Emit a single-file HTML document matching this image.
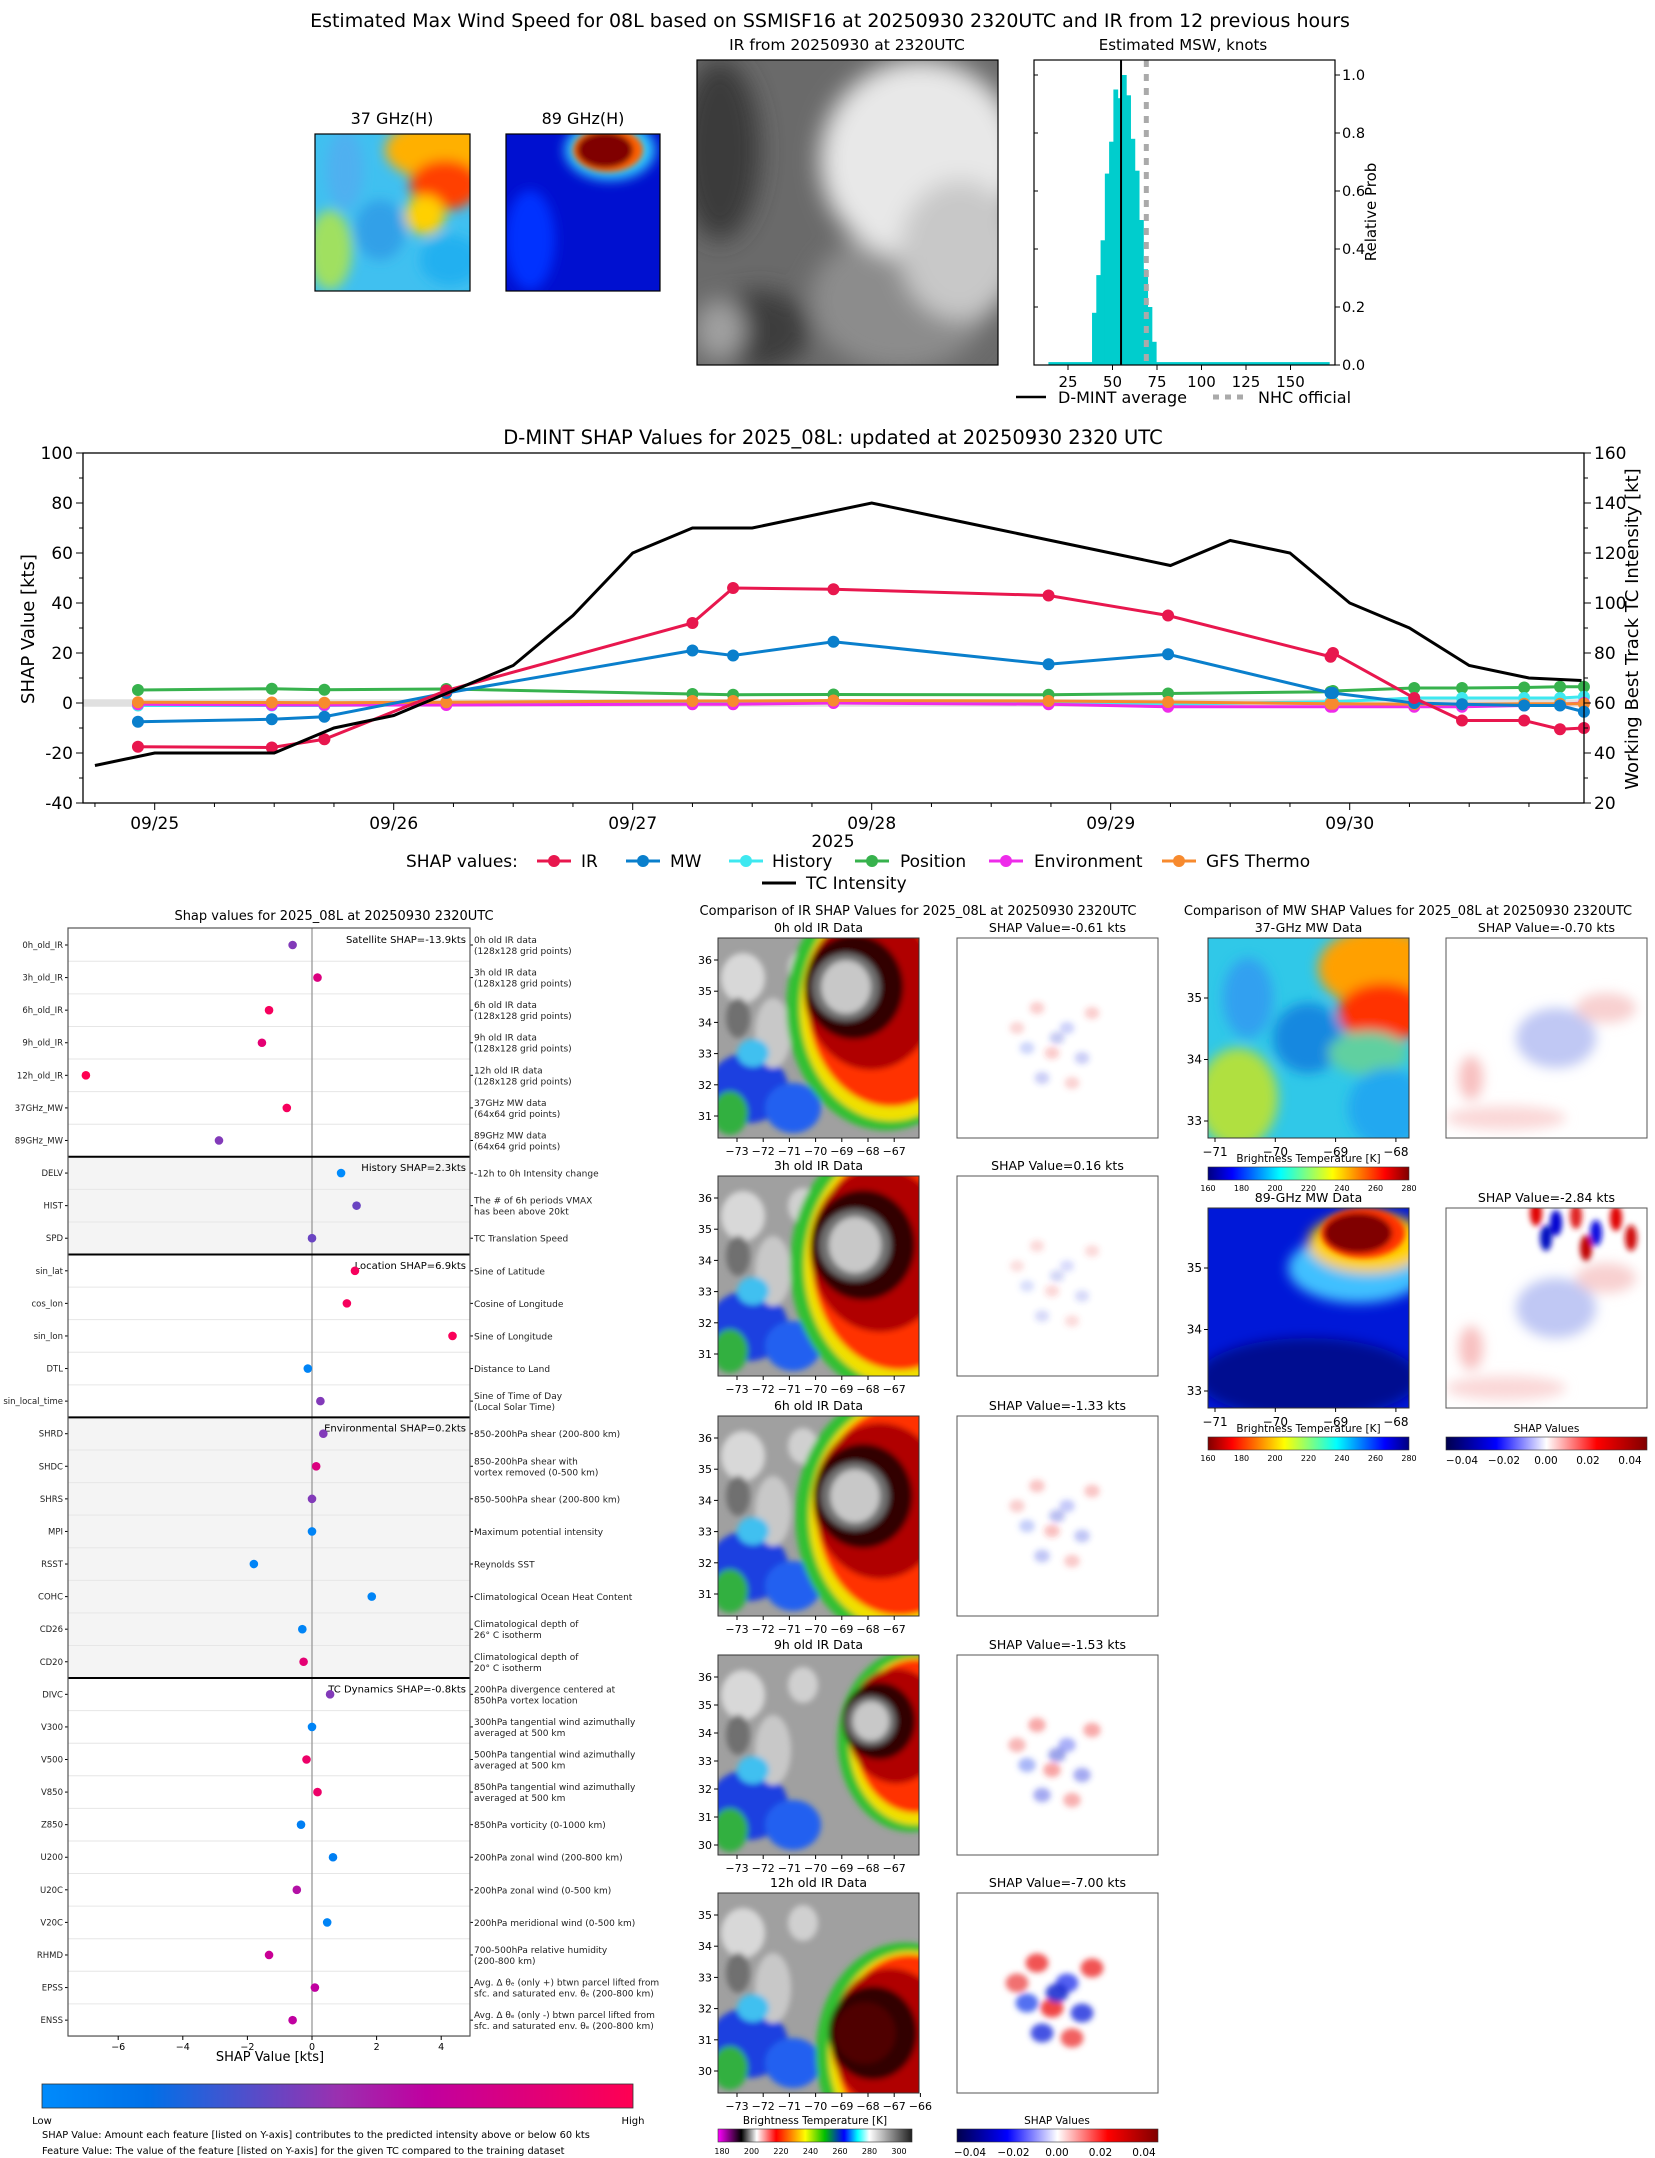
<!DOCTYPE html>
<html><head><meta charset="utf-8">
<style>
body{margin:0;background:#fff;}
svg{display:block;font-family:"DejaVu Sans","Liberation Sans",sans-serif;}
</style></head>
<body>
<svg id="fig" xmlns="http://www.w3.org/2000/svg" width="1655" height="2158" viewBox="0 0 1655 2158">
<defs>
<filter id="bl3" x="-20%" y="-20%" width="140%" height="140%"><feGaussianBlur stdDeviation="3"/></filter>
<filter id="bl6" x="-30%" y="-30%" width="160%" height="160%"><feGaussianBlur stdDeviation="6"/></filter>
<filter id="bl12" x="-30%" y="-30%" width="160%" height="160%"><feGaussianBlur stdDeviation="12"/></filter>
<linearGradient id="jet" x1="0" x2="1" y1="0" y2="0">
<stop offset="0" stop-color="#00007f"/><stop offset="0.12" stop-color="#0000ff"/><stop offset="0.36" stop-color="#00ffff"/><stop offset="0.62" stop-color="#ffff00"/><stop offset="0.88" stop-color="#ff0000"/><stop offset="1" stop-color="#7f0000"/></linearGradient>
<linearGradient id="jetr" x1="1" x2="0" y1="0" y2="0">
<stop offset="0" stop-color="#00007f"/><stop offset="0.12" stop-color="#0000ff"/><stop offset="0.36" stop-color="#00ffff"/><stop offset="0.62" stop-color="#ffff00"/><stop offset="0.88" stop-color="#ff0000"/><stop offset="1" stop-color="#7f0000"/></linearGradient>
<linearGradient id="seis" x1="0" x2="1"><stop offset="0" stop-color="#00004c"/><stop offset="0.25" stop-color="#0000ff"/><stop offset="0.5" stop-color="#ffffff"/><stop offset="0.75" stop-color="#ff0000"/><stop offset="1" stop-color="#800000"/></linearGradient>
<linearGradient id="irc" x1="0" x2="1"><stop offset="0" stop-color="#ff00ff"/><stop offset="0.12" stop-color="#000000"/><stop offset="0.2" stop-color="#ffffff"/><stop offset="0.3" stop-color="#ff0000"/><stop offset="0.45" stop-color="#ffff00"/><stop offset="0.55" stop-color="#00c000"/><stop offset="0.65" stop-color="#0000ff"/><stop offset="0.72" stop-color="#00ffff"/><stop offset="0.78" stop-color="#ffffff"/><stop offset="1" stop-color="#202020"/></linearGradient>
<linearGradient id="shapcb" x1="0" x2="1"><stop offset="0" stop-color="#008bfc"/><stop offset="0.18" stop-color="#0070e8"/><stop offset="0.5" stop-color="#9a30b0"/><stop offset="0.65" stop-color="#c000a0"/><stop offset="1" stop-color="#ff0052"/></linearGradient>
</defs>

<text x="830" y="27" font-size="19" text-anchor="middle">Estimated Max Wind Speed for 08L based on SSMISF16 at 20250930 2320UTC and IR from 12 previous hours</text>
<text x="392" y="124" font-size="16" text-anchor="middle">37 GHz(H)</text>
<text x="583" y="124" font-size="16" text-anchor="middle">89 GHz(H)</text>
<text x="847" y="50" font-size="15.5" text-anchor="middle">IR from 20250930 at 2320UTC</text>
<text x="1183" y="50" font-size="15" text-anchor="middle">Estimated MSW, knots</text>

<g>
<clipPath id="c37"><rect x="315" y="134" width="155" height="157"/></clipPath>
<g clip-path="url(#c37)">
<rect x="315" y="134" width="155" height="157" fill="#40c0f0"/>
<g filter="url(#bl6)">
<ellipse cx="330" cy="250" rx="22" ry="40" fill="#a0e060"/>
<ellipse cx="345" cy="170" rx="18" ry="40" fill="#50b0f0"/>
<ellipse cx="440" cy="150" rx="55" ry="30" fill="#ffb000"/>
<ellipse cx="445" cy="185" rx="35" ry="25" fill="#ff4000"/>
<ellipse cx="425" cy="215" rx="20" ry="20" fill="#ffd000"/>
<ellipse cx="380" cy="230" rx="25" ry="30" fill="#30a0e8"/>
<ellipse cx="450" cy="260" rx="30" ry="25" fill="#20b0f0"/>
</g></g>
<rect x="315" y="134" width="155" height="157" fill="none" stroke="#000" stroke-width="1.2"/>
</g>
<g>
<clipPath id="c89"><rect x="506" y="134" width="154" height="157"/></clipPath>
<g clip-path="url(#c89)">
<rect x="506" y="134" width="154" height="157" fill="#0010d0"/>
<g filter="url(#bl6)">
<ellipse cx="610" cy="150" rx="45" ry="30" fill="#30d0ff"/>
<ellipse cx="530" cy="240" rx="25" ry="50" fill="#0030ff"/>
</g>
<g filter="url(#bl3)">
<ellipse cx="608" cy="150" rx="35" ry="22" fill="#ff6000"/>
<ellipse cx="605" cy="150" rx="28" ry="18" fill="#800000"/>
</g></g>
<rect x="506" y="134" width="154" height="157" fill="none" stroke="#000" stroke-width="1.2"/>
</g>
<g>
<clipPath id="cir"><rect x="697" y="60" width="301" height="305"/></clipPath>
<g clip-path="url(#cir)">
<rect x="697" y="60" width="301" height="305" fill="#6a6a6a"/>
<g filter="url(#bl12)">
<ellipse cx="720" cy="150" rx="40" ry="90" fill="#3a3a3a"/>
<ellipse cx="760" cy="330" rx="50" ry="40" fill="#3e3e3e"/>
<ellipse cx="900" cy="300" rx="90" ry="70" fill="#8c8c8c"/>
<ellipse cx="920" cy="160" rx="100" ry="100" fill="#e8e8e8"/>
<ellipse cx="960" cy="250" rx="60" ry="70" fill="#c8c8c8"/>
<ellipse cx="720" cy="330" rx="25" ry="30" fill="#a0a0a0"/>
</g></g>
<rect x="697" y="60" width="301" height="305" fill="none" stroke="#000" stroke-width="1.2"/>
</g>

<g id="hist"></g>
<g id="ts"></g>
<g id="feat"></g>
<g id="irpanels"></g>
<g id="mwpanels"></g>
</svg>

<script>
const NS='http://www.w3.org/2000/svg';
function add(p,tag,a,txt){const e=document.createElementNS(NS,tag);for(const k in a)e.setAttribute(k,a[k]);if(txt!==undefined)e.textContent=txt;p.appendChild(e);return e;}

const histBinStarts=[38.5,40.9,43.3,45.7,48.1,50.5,52.9,55.3,57.7,60.1,62.5,64.9,67.3,69.7,72.1];
const histProbs=[0.18,0.31,0.43,0.66,0.77,0.95,0.92,1.0,0.93,0.78,0.67,0.50,0.33,0.20,0.08];
const histBinWidth=2.4;
const histTail=[[14,38.5,0.01],[74.5,172,0.01]];
const dmintMean=54.8;
const nhcOfficial=69;
const histXTicks=[25,50,75,100,125,150];
const histYTicks=[0,0.2,0.4,0.6,0.8,1.0];
(function(){
 const g=document.getElementById('hist');
 const L=1034,R=1335,T=60,B=365;
 const xH=v=>L+(v-5.9)*1.78;
 const yH=p=>B-p*290;
 histTail.forEach(t=>{const r=add(g,'rect',{x:xH(t[0]),y:yH(t[2]),width:xH(t[1])-xH(t[0]),height:B-yH(t[2]),fill:'#00cdcd'});
  
  });
 histProbs.forEach((p,i)=>{const r=add(g,'rect',{x:xH(histBinStarts[i]),y:yH(p),width:xH(histBinStarts[i]+histBinWidth)-xH(histBinStarts[i])+0.5,height:B-yH(p),fill:'#00cdcd'});
  
  });
 const m=add(g,'line',{x1:xH(dmintMean),x2:xH(dmintMean),y1:T,y2:B,stroke:'#000','stroke-width':2});
 
 
 const n=add(g,'line',{x1:xH(nhcOfficial),x2:xH(nhcOfficial),y1:T,y2:B,stroke:'#aaa','stroke-width':5,'stroke-dasharray':'7,7'});
 
 
 const fr=add(g,'rect',{x:L,y:T,width:R-L,height:B-T,fill:'none',stroke:'#000','stroke-width':1.2});
 
 
 histXTicks.forEach(v=>{add(g,'line',{x1:xH(v),x2:xH(v),y1:B,y2:B+5,stroke:'#000'});
  const t=add(g,'text',{x:xH(v),y:B+22,'font-size':15,'text-anchor':'middle'},String(v));
  
  });
 histYTicks.forEach(v=>{add(g,'line',{x1:R,x2:R+5,y1:yH(v),y2:yH(v),stroke:'#000'});
  add(g,'line',{x1:L,x2:L+4,y1:yH(v),y2:yH(v),stroke:'#000'});
  const t=add(g,'text',{x:R+7,y:yH(v)+5,'font-size':14.5},v.toFixed(1));
  
  });
 const yl=add(g,'text',{x:0,y:0,'font-size':15,'text-anchor':'middle',transform:'translate(1376,212) rotate(-90)'},'Relative Prob');
 
 
 const l1=add(g,'line',{x1:1016,x2:1046,y1:397,y2:397,stroke:'#000','stroke-width':2.5});
 
 
 const t1=add(g,'text',{x:1058,y:403,'font-size':16},'D-MINT average');
 
 
 const l2=add(g,'line',{x1:1213,x2:1245,y1:397,y2:397,stroke:'#aaa','stroke-width':5,'stroke-dasharray':'6,6'});
 
 
 const t2=add(g,'text',{x:1258,y:403,'font-size':16},'NHC official');
 
 
})();

const shapTimes=[-0.07,0.49,0.71,1.22,2.25,2.42,2.84,3.74,4.24,4.92,4.93,5.27,5.47,5.73,5.88,5.98];
const irShap=[-17.5,-17.8,-14.5,5,32,46,45.5,43,35,18.5,20,2,-7,-7,-10.5,-10];
const mwShap=[-7.5,-6.5,-5.5,4,21,19,24.5,15.5,19.5,4,4,0,-0.5,-1,-1,-3.5];
const historyShap=[-1,-1,-1,-0.5,0,0,0.5,0.5,-0.5,0.5,0.5,2,2,2,2,2.5];
const positionShap=[5.2,5.7,5.3,5.6,3.6,3.3,3.4,3.3,3.8,4.5,4.8,6,6,6.2,6.5,6.5];
const envShap=[-0.5,-0.8,-0.8,-0.8,-0.5,-0.5,0,-0.5,-1.5,-1.5,-1.5,-1.5,-1.5,-1,-0.5,0];
const gfsShap=[0.3,0.2,0.1,0.3,0.8,0.8,1,0.8,0.4,-0.3,-0.3,-0.5,-0.5,-0.3,-0.3,-0.3];
const intensityTimes=[-0.25,0,0.25,0.5,0.75,1,1.25,1.5,1.75,2,2.25,2.5,2.75,3,3.25,3.5,3.75,4,4.25,4.5,4.75,5,5.25,5.5,5.75,5.97];
const intensityKt=[35,40,40,40,50,55,65,75,95,120,130,130,135,140,135,130,125,120,115,125,120,100,90,75,70,69];
const dateLabels=['09/25','09/26','09/27','09/28','09/29','09/30'];
const leftTicks=[-40,-20,0,20,40,60,80,100];
const rightTicks=[20,40,60,80,100,120,140,160];
(function(){
 const g=document.getElementById('ts');
 const L=83,R=1584,T=453,B=803;
 const xS=d=>L+(d+0.30)*239;
 const yL=v=>T+(100-v)*2.5;
 const yR=k=>yL(k-60);
 const tt=add(g,'text',{x:833,y:444,'font-size':19.5,'text-anchor':'middle'},'D-MINT SHAP Values for 2025_08L: updated at 20250930 2320 UTC');
 
 
 const band=add(g,'rect',{x:L,y:yL(1.5),width:R-L,height:yL(-1.5)-yL(1.5),fill:'#e0e0e0'});
 
 
 const series=[['ir',irShap,'#e8174e'],['mw',mwShap,'#0a7fcc'],['history',historyShap,'#3ee8f0'],['position',positionShap,'#37b24d'],['environment',envShap,'#ee2bea'],['gfs-thermo',gfsShap,'#f78a2e']];
 const order=[3,2,4,5,1,0];
 order.forEach(si=>{const s=series[si];
  const pts=shapTimes.map((t,i)=>xS(t)+','+yL(s[1][i])).join(' ');
  const pl=add(g,'polyline',{points:pts,fill:'none',stroke:s[2],'stroke-width':3});
  
  
  shapTimes.forEach((t,i)=>{const c=add(g,'circle',{cx:xS(t),cy:yL(s[1][i]),r:6,fill:s[2]});
   
   });
 });
 const ip=add(g,'polyline',{points:intensityTimes.map((t,i)=>xS(t)+','+yR(intensityKt[i])).join(' '),fill:'none',stroke:'#000','stroke-width':3});
 
 
 const fr=add(g,'rect',{x:L,y:T,width:R-L,height:B-T,fill:'none',stroke:'#000','stroke-width':1.3});
 
 
 leftTicks.forEach(v=>{add(g,'line',{x1:L-7,x2:L,y1:yL(v),y2:yL(v),stroke:'#000'});
  const t=add(g,'text',{x:L-10,y:yL(v)+6,'font-size':17,'text-anchor':'end'},String(v));
  
  });
 for(let v=-30;v<100;v+=20){add(g,'line',{x1:L-4,x2:L,y1:yL(v),y2:yL(v),stroke:'#000'});}
 rightTicks.forEach(v=>{add(g,'line',{x1:R,x2:R+7,y1:yR(v),y2:yR(v),stroke:'#000'});
  const t=add(g,'text',{x:R+10,y:yR(v)+6,'font-size':17},String(v));
  
  });
 for(let v=30;v<160;v+=20){add(g,'line',{x1:R,x2:R+4,y1:yR(v),y2:yR(v),stroke:'#000'});}
 dateLabels.forEach((d,i)=>{add(g,'line',{x1:xS(i),x2:xS(i),y1:B,y2:B+7,stroke:'#000'});
  const t=add(g,'text',{x:xS(i),y:B+26,'font-size':17,'text-anchor':'middle'},d);
  
  });
 for(let d=-0.25;d<6;d+=0.25){if(Math.abs(d-Math.round(d))>0.01)add(g,'line',{x1:xS(d),x2:xS(d),y1:B,y2:B+4,stroke:'#000'});}
 const xl=add(g,'text',{x:833,y:847,'font-size':17,'text-anchor':'middle'},'2025');
 
 
 const ly=add(g,'text',{x:0,y:0,'font-size':18,'text-anchor':'middle',transform:'translate(34,629) rotate(-90)'},'SHAP Value [kts]');
 
 
 const ry=add(g,'text',{x:0,y:0,'font-size':18,'text-anchor':'middle',transform:'translate(1638,629) rotate(-90)'},'Working Best Track TC Intensity [kt]');
 
 
 const lh=add(g,'text',{x:406,y:867,'font-size':17},'SHAP values:');
 
 
 const leg=[['IR',554,581,'#e8174e'],['MW',643,670,'#0a7fcc'],['History',746,772,'#3ee8f0'],['Position',872,900,'#37b24d'],['Environment',1006,1034,'#ee2bea'],['GFS Thermo',1179,1206,'#f78a2e']];
 leg.forEach(e=>{add(g,'line',{x1:e[1]-17,x2:e[1]+17,y1:861,y2:861,stroke:e[3],'stroke-width':3});
  const c=add(g,'circle',{cx:e[1],cy:861,r:6,fill:e[3]});
  
  
  const t=add(g,'text',{x:e[2],y:867,'font-size':17},e[0]);
  
  });
 add(g,'line',{x1:762,x2:796,y1:883,y2:883,stroke:'#000','stroke-width':3});
 const ti=add(g,'text',{x:806,y:889,'font-size':17},'TC Intensity');
 
 
})();

const featNames=['0h_old_IR','3h_old_IR','6h_old_IR','9h_old_IR','12h_old_IR','37GHz_MW','89GHz_MW','DELV','HIST','SPD','sin_lat','cos_lon','sin_lon','DTL','sin_local_time','SHRD','SHDC','SHRS','MPI','RSST','COHC','CD26','CD20','DIVC','V300','V500','V850','Z850','U200','U20C','V20C','RHMD','EPSS','ENSS'];
const featShap=[-0.6,0.17,-1.33,-1.55,-7.0,-0.78,-2.88,0.9,1.38,0,1.33,1.08,4.35,-0.13,0.26,0.35,0.13,0,0,-1.8,1.85,-0.3,-0.26,0.56,0,-0.17,0.17,-0.34,0.65,-0.47,0.47,-1.33,0.09,-0.6];
const featValue=[0.45,0.8,0.95,0.85,1.0,0.95,0.45,0.0,0.4,0.4,0.95,0.95,0.97,0.05,0.45,0.45,0.8,0.45,0.05,0.05,0.05,0.05,0.85,0.45,0.05,0.9,0.9,0.08,0.08,0.6,0.05,0.7,0.65,0.65];
const featDesc=[['0h old IR data','(128x128 grid points)'],['3h old IR data','(128x128 grid points)'],['6h old IR data','(128x128 grid points)'],['9h old IR data','(128x128 grid points)'],['12h old IR data','(128x128 grid points)'],['37GHz MW data','(64x64 grid points)'],['89GHz MW data','(64x64 grid points)'],['-12h to 0h Intensity change'],['The # of 6h periods VMAX','has been above 20kt'],['TC Translation Speed'],['Sine of Latitude'],['Cosine of Longitude'],['Sine of Longitude'],['Distance to Land'],['Sine of Time of Day','(Local Solar Time)'],['850-200hPa shear (200-800 km)'],['850-200hPa shear with','vortex removed (0-500 km)'],['850-500hPa shear (200-800 km)'],['Maximum potential intensity'],['Reynolds SST'],['Climatological Ocean Heat Content'],['Climatological depth of','26° C isotherm'],['Climatological depth of','20° C isotherm'],['200hPa divergence centered at','850hPa vortex location'],['300hPa tangential wind azimuthally','averaged at 500 km'],['500hPa tangential wind azimuthally','averaged at 500 km'],['850hPa tangential wind azimuthally','averaged at 500 km'],['850hPa vorticity (0-1000 km)'],['200hPa zonal wind (200-800 km)'],['200hPa zonal wind (0-500 km)'],['200hPa meridional wind (0-500 km)'],['700-500hPa relative humidity','(200-800 km)'],['Avg. Δ θₑ (only +) btwn parcel lifted from','sfc. and saturated env. θₑ (200-800 km)'],['Avg. Δ θₑ (only -) btwn parcel lifted from','sfc. and saturated env. θₑ (200-800 km)']];
const groupNames=['Satellite SHAP=-13.9kts','History SHAP=2.3kts','Location SHAP=6.9kts','Environmental SHAP=0.2kts','TC Dynamics SHAP=-0.8kts'];
const groupStart=[0,7,10,15,23];
const groupEnd=[6,9,14,22,33];
const featXTicks=[-6,-4,-2,0,2,4];
function valColor(v){const a=[[0,139,252],[0,112,232],[154,48,176],[192,0,160],[255,0,82]];const s=[0,0.18,0.5,0.65,1];let i=0;while(i<3&&v>s[i+1])i++;const f=(v-s[i])/(s[i+1]-s[i]);const c=a[i].map((x,k)=>Math.round(x+(a[i+1][k]-x)*f));return 'rgb('+c.join(',')+')';}
(function(){
 const g=document.getElementById('feat');
 const L=68,R=470,T=928,B=2036;
 const xF=v=>312+v*32.3;
 const yF=i=>945+i*32.58;
 const tt=add(g,'text',{x:334,y:920,'font-size':13,'text-anchor':'middle'},'Shap values for 2025_08L at 20250930 2320UTC');
 
 
 groupStart.forEach((s,gi)=>{
  const y0=gi===0?T:yF(s)-16.3, y1=gi===4?B:yF(groupEnd[gi])+16.3;
  if(gi===1||gi===3){const r=add(g,'rect',{x:L,y:y0,width:R-L,height:y1-y0,fill:'#f4f4f4'});
   
   }
 });
 featNames.forEach((n,i)=>{add(g,'line',{x1:L,x2:R,y1:yF(i)+16.3,y2:yF(i)+16.3,stroke:'#e6e6e6','stroke-width':1});});
 add(g,'line',{x1:xF(0),x2:xF(0),y1:T,y2:B,stroke:'#999','stroke-width':1.3});
 groupStart.forEach((s,gi)=>{if(gi>0){const l=add(g,'line',{x1:L,x2:R,y1:yF(s)-16.3,y2:yF(s)-16.3,stroke:'#000','stroke-width':2});
   
   }
  const t=add(g,'text',{x:R-4,y:yF(s)-2,'font-size':10,'text-anchor':'end'},groupNames[gi]);
  
  });
 featNames.forEach((n,i)=>{
  const t=add(g,'text',{x:L-5,y:yF(i)+3,'font-size':8.5,'text-anchor':'end',fill:'#222'},n);
  
  
  add(g,'line',{x1:L-3,x2:L,y1:yF(i),y2:yF(i),stroke:'#000'});
  add(g,'line',{x1:R,x2:R+3,y1:yF(i),y2:yF(i),stroke:'#000'});
  const d=featDesc[i];
  d.forEach((line,k)=>{const dt=add(g,'text',{x:R+4,y:yF(i)+(d.length===1?3.5:-2+k*11),'font-size':9,fill:'#222'},line);
   
   });
  const c=add(g,'circle',{cx:xF(featShap[i]),cy:yF(i),r:4.3,fill:valColor(featValue[i])});
  
  
 });
 const fr=add(g,'rect',{x:L,y:T,width:R-L,height:B-T,fill:'none',stroke:'#555','stroke-width':1.2});
 
 
 featXTicks.forEach(v=>{add(g,'line',{x1:xF(v),x2:xF(v),y1:B,y2:B+4,stroke:'#000'});
  const t=add(g,'text',{x:xF(v),y:B+14,'font-size':9.5,'text-anchor':'middle'},v<0?'−'+(-v):String(v));
  
  });
 const xl=add(g,'text',{x:270,y:2061,'font-size':13,'text-anchor':'middle'},'SHAP Value [kts]');
 
 
 const cb=add(g,'rect',{x:42,y:2084,width:591,height:24,fill:'url(#shapcb)',stroke:'#333','stroke-width':0.8});
 
 
 const lo=add(g,'text',{x:42,y:2124,'font-size':10,'text-anchor':'middle'},'Low');
 
 
 const hi=add(g,'text',{x:633,y:2124,'font-size':10,'text-anchor':'middle'},'High');
 
 
 const f1=add(g,'text',{x:42,y:2138,'font-size':9.8},'SHAP Value: Amount each feature [listed on Y-axis] contributes to the predicted intensity above or below 60 kts');
 
 
 const f2=add(g,'text',{x:42,y:2154,'font-size':9.8},'Feature Value: The value of the feature [listed on Y-axis] for the given TC compared to the training dataset');
 
 
})();

const irPanelTitles=['0h old IR Data','3h old IR Data','6h old IR Data','9h old IR Data','12h old IR Data'];
const irShapTitles=['SHAP Value=-0.61 kts','SHAP Value=0.16 kts','SHAP Value=-1.33 kts','SHAP Value=-1.53 kts','SHAP Value=-7.00 kts'];
const irLatTicks=[[36,35,34,33,32,31],[36,35,34,33,32,31],[36,35,34,33,32,31],[36,35,34,33,32,31,30],[35,34,33,32,31,30]];
const irLonTicks=[[-73,-72,-71,-70,-69,-68,-67],[-73,-72,-71,-70,-69,-68,-67],[-73,-72,-71,-70,-69,-68,-67],[-73,-72,-71,-70,-69,-68,-67],[-73,-72,-71,-70,-69,-68,-67,-66]];
const irCenters=[[128,49,0.95],[137,69,1.0],[137,80,0.95],[153,66,0.7],[147,140,0.85]];
const irShapStrength=[0.25,0.2,0.3,0.45,0.9];
(function(){
 const g=document.getElementById('irpanels');
 const tt=add(g,'text',{x:918,y:915,'font-size':13,'text-anchor':'middle'},'Comparison of IR SHAP Values for 2025_08L at 20250930 2320UTC');
 
 
 const tops=[938,1176,1416,1655,1893];
 const X=718,W=201,H=200,SX=957;
 tops.forEach((top,p)=>{
  const cp=add(g,'clipPath',{id:'irc'+p});add(cp,'rect',{x:X,y:top,width:W,height:H});
  const im=add(g,'g',{'clip-path':'url(#irc'+p+')'});
  
  
  add(im,'rect',{x:X,y:top,width:W,height:H,fill:'#a0a0a0'});
  const [cx,cy,s]=irCenters[p];
  const bb=add(im,'g',{filter:'url(#bl3)'});
  add(bb,'ellipse',{cx:X+30,cy:top+150,rx:40,ry:35,fill:'#1a40e0'});
  add(bb,'ellipse',{cx:X+12,cy:top+175,rx:18,ry:22,fill:'#30b040'});
  add(bb,'ellipse',{cx:X+75,cy:top+170,rx:28,ry:25,fill:'#2060f0'});
  add(bb,'ellipse',{cx:X+25,cy:top+40,rx:22,ry:25,fill:'#d8d8d8'});
  add(bb,'ellipse',{cx:X+55,cy:top+95,rx:18,ry:35,fill:'#c8c8c8'});
  add(bb,'ellipse',{cx:X+35,cy:top+115,rx:16,ry:14,fill:'#40c0f0'});
  add(bb,'ellipse',{cx:X+20,cy:top+80,rx:12,ry:20,fill:'#707070'});
  add(bb,'ellipse',{cx:X+85,cy:top+30,rx:15,ry:18,fill:'#d0d0d0'});
  const bx=X+cx, by=top+cy;
  add(bb,'ellipse',{cx:bx+40,cy:by+20,rx:105*s,ry:130*s,fill:'#30c030'});
  add(bb,'ellipse',{cx:bx+45,cy:by+20,rx:96*s,ry:120*s,fill:'#f0e000'});
  add(bb,'ellipse',{cx:bx+45,cy:by+15,rx:88*s,ry:110*s,fill:'#ff3000'});
  add(bb,'ellipse',{cx:bx+25,cy:by+5,rx:70*s,ry:82*s,fill:'#b00000'});
  add(bb,'ellipse',{cx:bx+8,cy:by,rx:52*s,ry:55*s,fill:'#300000'});
  add(bb,'ellipse',{cx:bx,cy:by,rx:36*s,ry:36*s,fill:p===4?'#500000':'#707070'});
  if(p<4)add(bb,'ellipse',{cx:bx,cy:by,rx:26*s,ry:28*s,fill:'#c8c8c8'});
  const fr=add(g,'rect',{x:X,y:top,width:W,height:H,fill:'none',stroke:'#333','stroke-width':1});
  
  
  const t1=add(g,'text',{x:X+W/2,y:top-6,'font-size':12.5,'text-anchor':'middle'},irPanelTitles[p]);
  
  
  const lons=irLonTicks[p], lats=irLatTicks[p];
  lons.forEach((v,k)=>{const x=X+19+k*26.2;add(g,'line',{x1:x,x2:x,y1:top+H,y2:top+H+4,stroke:'#000'});
   const t=add(g,'text',{x:x,y:top+H+17,'font-size':11,'text-anchor':'middle'},'−'+(-v));
   
   });
  lats.forEach((v,k)=>{const y=top+22+k*(lats.length>6?28:31.2);add(g,'line',{x1:X-4,x2:X,y1:y,y2:y,stroke:'#000'});
   const t=add(g,'text',{x:X-6,y:y+4,'font-size':11,'text-anchor':'end'},String(v));
   
   });
  const cs=add(g,'clipPath',{id:'isc'+p});add(cs,'rect',{x:SX,y:top,width:W,height:H});
  const sm=add(g,'g',{'clip-path':'url(#isc'+p+')'});
  
  
  add(sm,'rect',{x:SX,y:top,width:W,height:H,fill:'#fff'});
  const st=irShapStrength[p];
  const sb=add(sm,'g',{filter:'url(#bl3)','fill-opacity':st});
  const offs=[[-20,-30,'#f04040'],[10,-10,'#4050f0'],[-5,15,'#f03030'],[25,20,'#3040e0'],[-30,10,'#4060f0'],[15,45,'#f05050'],[-15,40,'#3040e0'],[35,-25,'#f04040'],[0,0,'#2030d0'],[-40,-10,'#f06060']];
  offs.forEach(o=>add(sb,'ellipse',{cx:SX+100+o[0],cy:top+100+o[1],rx:6+st*6,ry:5+st*5,fill:o[2]}));
  const sf=add(g,'rect',{x:SX,y:top,width:W,height:H,fill:'none',stroke:'#555','stroke-width':1});
  
  
  const t2=add(g,'text',{x:SX+W/2,y:top-6,'font-size':12.5,'text-anchor':'middle'},irShapTitles[p]);
  
  
 });
 const c1=add(g,'rect',{x:718,y:2129,width:194,height:13,fill:'url(#irc)',stroke:'#333','stroke-width':0.6});
 
 
 const l1=add(g,'text',{x:815,y:2124,'font-size':10.5,'text-anchor':'middle'},'Brightness Temperature [K]');
 
 
 [180,200,220,240,260,280,300].forEach((v,k)=>{const t=add(g,'text',{x:722+k*29.5,y:2154,'font-size':8,'text-anchor':'middle'},String(v));
  
  });
 const c2=add(g,'rect',{x:957,y:2129,width:201,height:13,fill:'url(#seis)',stroke:'#333','stroke-width':0.6});
 
 
 const l2=add(g,'text',{x:1057,y:2124,'font-size':10.5,'text-anchor':'middle'},'SHAP Values');
 
 
 ['−0.04','−0.02','0.00','0.02','0.04'].forEach((v,k)=>{const t=add(g,'text',{x:970+k*43.5,y:2156,'font-size':10.5,'text-anchor':'middle'},v);
  
  });
})();

const mwTitles=['37-GHz MW Data','89-GHz MW Data'];
const mwShapTitles=['SHAP Value=-0.70 kts','SHAP Value=-2.84 kts'];
const mwLonTicks=[-71,-70,-69,-68];
const mwLatTicks=[35,34,33];
const cbTicks=[160,180,200,220,240,260,280];
(function(){
 const g=document.getElementById('mwpanels');
 const tt=add(g,'text',{x:1408,y:915,'font-size':13,'text-anchor':'middle'},'Comparison of MW SHAP Values for 2025_08L at 20250930 2320UTC');
 
 
 const X=1208,W=201,SX=1446;
 const tops=[938,1208];
 tops.forEach((top,p)=>{
  const H=200;
  const cp=add(g,'clipPath',{id:'mwc'+p});add(cp,'rect',{x:X,y:top,width:W,height:H});
  const im=add(g,'g',{'clip-path':'url(#mwc'+p+')'});
  
  
  if(p===0){
   add(im,'rect',{x:X,y:top,width:W,height:H,fill:'#30c8e8'});
   const bb=add(im,'g',{filter:'url(#bl6)'});
   add(bb,'ellipse',{cx:X+30,cy:top+160,rx:40,ry:50,fill:'#b0e040'});
   add(bb,'ellipse',{cx:X+100,cy:top+100,rx:35,ry:35,fill:'#1888e0'});
   add(bb,'ellipse',{cx:X+40,cy:top+60,rx:25,ry:40,fill:'#30a0f0'});
   add(bb,'ellipse',{cx:X+170,cy:top+30,rx:60,ry:40,fill:'#ffa000'});
   add(bb,'ellipse',{cx:X+175,cy:top+75,rx:45,ry:30,fill:'#ff3000'});
   add(bb,'ellipse',{cx:X+160,cy:top+115,rx:40,ry:22,fill:'#60d0a0'});
   add(bb,'ellipse',{cx:X+180,cy:top+170,rx:40,ry:40,fill:'#20a8f0'});
  } else {
   add(im,'rect',{x:X,y:top,width:W,height:H,fill:'#0018d8'});
   const bb=add(im,'g',{filter:'url(#bl6)'});
   add(bb,'ellipse',{cx:X+100,cy:top+170,rx:110,ry:40,fill:'#000a90'});
   add(bb,'ellipse',{cx:X+150,cy:top+60,rx:70,ry:35,fill:'#40c0ff'});
   add(bb,'ellipse',{cx:X+160,cy:top+35,rx:60,ry:30,fill:'#ffd000'});
   const b2=add(im,'g',{filter:'url(#bl3)'});
   add(b2,'ellipse',{cx:X+155,cy:top+25,rx:42,ry:25,fill:'#ff3000'});
   add(b2,'ellipse',{cx:X+150,cy:top+25,rx:34,ry:20,fill:'#800000'});
  }
  const fr=add(g,'rect',{x:X,y:top,width:W,height:H,fill:'none',stroke:'#333','stroke-width':1});
  
  
  const t1=add(g,'text',{x:X+W/2,y:top-6,'font-size':12.5,'text-anchor':'middle'},mwTitles[p]);
  
  
  mwLonTicks.forEach((v,k)=>{const x=X+7+k*60.3;add(g,'line',{x1:x,x2:x,y1:top+H,y2:top+H+4,stroke:'#000'});
   const t=add(g,'text',{x:x,y:top+H+18,'font-size':12,'text-anchor':'middle'},'−'+(-v));
   
   });
  mwLatTicks.forEach((v,k)=>{const y=top+60+k*61.5;add(g,'line',{x1:X-4,x2:X,y1:y,y2:y,stroke:'#000'});
   const t=add(g,'text',{x:X-6,y:y+4,'font-size':12,'text-anchor':'end'},String(v));
   
   });
  const cs=add(g,'clipPath',{id:'msc'+p});add(cs,'rect',{x:SX,y:top,width:W,height:H});
  const sm=add(g,'g',{'clip-path':'url(#msc'+p+')'});
  
  
  add(sm,'rect',{x:SX,y:top,width:W,height:H,fill:'#fff'});
  const sb=add(sm,'g',{filter:'url(#bl6)'});
  add(sb,'ellipse',{cx:SX+110,cy:top+100,rx:40,ry:30,fill:'#c0c8f4'});
  add(sb,'ellipse',{cx:SX+25,cy:top+140,rx:12,ry:22,fill:'#f8c0c0'});
  add(sb,'ellipse',{cx:SX+160,cy:top+70,rx:30,ry:15,fill:'#f8d0d0'});
  add(sb,'ellipse',{cx:SX+60,cy:top+180,rx:60,ry:12,fill:'#fad8d8'});
  if(p===1){const b3=add(sm,'g',{filter:'url(#bl3)'});
   [[-40,5,'#e00000'],[-20,15,'#0000d0'],[0,8,'#e02020'],[20,25,'#1010e0'],[40,10,'#e00000'],[55,30,'#d01010'],[-30,30,'#0010c0'],[10,40,'#c00000']].forEach(o=>add(b3,'ellipse',{cx:SX+130+o[0],cy:top+o[1],rx:6,ry:13,fill:o[2]}));}
  const sf=add(g,'rect',{x:SX,y:top,width:W,height:H,fill:'none',stroke:'#555','stroke-width':1});
  
  
  const t2=add(g,'text',{x:SX+W/2,y:top-6,'font-size':12.5,'text-anchor':'middle'},mwShapTitles[p]);
  
  
 });
 const cbs=[[1167,'url(#jet)'],[1437,'url(#jetr)']];
 cbs.forEach((c,k)=>{const r=add(g,'rect',{x:X,y:c[0],width:W,height:13,fill:c[1],stroke:'#333','stroke-width':0.6});
  
  
  const l=add(g,'text',{x:X+W/2,y:c[0]-5,'font-size':10.5,'text-anchor':'middle'},'Brightness Temperature [K]');
  
  
  cbTicks.forEach((v,i)=>{const t=add(g,'text',{x:X+i*W/6,y:c[0]+24,'font-size':8,'text-anchor':'middle'},String(v));
   
   });});
 const sc=add(g,'rect',{x:SX,y:1437,width:W,height:13,fill:'url(#seis)',stroke:'#333','stroke-width':0.6});
 
 
 const sl=add(g,'text',{x:SX+W/2,y:1432,'font-size':10.5,'text-anchor':'middle'},'SHAP Values');
 
 
 ['−0.04','−0.02','0.00','0.02','0.04'].forEach((v,k)=>{const t=add(g,'text',{x:SX+16+k*42,y:1464,'font-size':10.5,'text-anchor':'middle'},v);
  
  });
})();
</script>
</body></html>
